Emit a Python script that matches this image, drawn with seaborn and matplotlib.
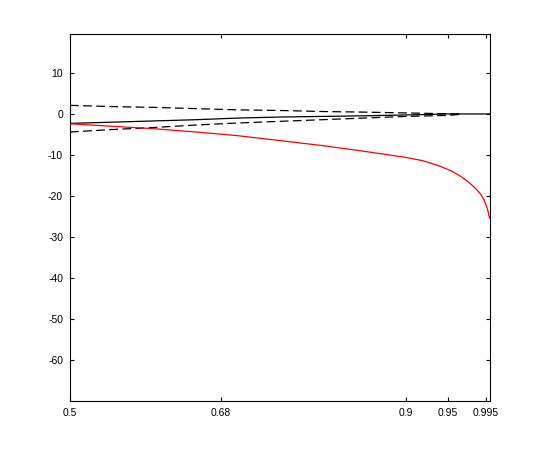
import numpy as np
import pandas as pd
import matplotlib
matplotlib.use("Agg")
import matplotlib.pyplot as plt
import seaborn as sns

# ---- data ----
red_p = [0.5, 0.55, 0.6, 0.65, 0.7, 0.75, 0.8, 0.85, 0.9, 0.92, 0.94, 0.955, 0.965,
         0.975, 0.983, 0.989, 0.993, 0.996, 0.998, 0.9995]
red_v = [-2.4, -3.0, -3.6, -4.4, -5.3, -6.5, -7.7, -9.1, -10.6, -11.4, -12.7, -14.0, -15.2,
         -16.7, -18.2, -19.6, -21.0, -22.6, -24.0, -25.4]

mid_p = [0.5, 0.55, 0.6, 0.65, 0.7, 0.75, 0.8, 0.85, 0.9, 0.95, 1.0]
mid_v = [-2.3, -2.0, -1.7, -1.4, -1.0, -0.75, -0.6, -0.45, -0.25, 0.0, 0.0]

band_p = [0.5, 0.55, 0.6, 0.65, 0.7, 0.75, 0.8, 0.85, 0.9, 0.95, 0.965]
upper_v = [2.1, 1.8, 1.6, 1.3, 1.0, 0.85, 0.6, 0.45, 0.25, 0.05, 0.0]
lower_v = [-4.4, -3.8, -3.3, -2.7, -2.2, -1.8, -1.4, -1.0, -0.6, -0.35, -0.1]

xtick_vals = [0.5, 0.68, 0.9, 0.95, 0.995]
xtick_labels = ["0.5", "0.68", "0.9", "0.95", "0.995"]
ytick_vals = [-60, -50, -40, -30, -20, -10, 0, 10]

sns.set_theme(style="white")
plt.rcParams["font.family"] = ["Liberation Sans", "DejaVu Sans"]

fig = plt.figure(figsize=(5.41, 4.5), dpi=100)
ax = fig.add_axes([70 / 541, 1 - 401 / 450, 420 / 541, 367 / 450])

red_df = pd.DataFrame({"p": red_p, "v": red_v})
mid_df = pd.DataFrame({"p": mid_p, "v": mid_v})
up_df = pd.DataFrame({"p": band_p, "v": upper_v})
lo_df = pd.DataFrame({"p": band_p, "v": lower_v})

dash = (0, (7, 3.5))
sns.lineplot(data=up_df, x="p", y="v", ax=ax, color="black", lw=0.9, linestyle=dash, sort=False)
sns.lineplot(data=lo_df, x="p", y="v", ax=ax, color="black", lw=0.9, linestyle=dash, sort=False)
sns.lineplot(data=mid_df, x="p", y="v", ax=ax, color="black", lw=0.9, sort=False)
sns.lineplot(data=red_df, x="p", y="v", ax=ax, color="red", lw=0.9, sort=False)

ax.set_xlim(0.5, 1.0)
ax.set_ylim(-70, 19.5)
ax.set_xticks(xtick_vals)
ax.set_xticklabels(xtick_labels)
ax.set_yticks(ytick_vals)
ax.set_yticklabels([str(v) for v in ytick_vals])
ax.set_xlabel("")
ax.set_ylabel("")
for s in ax.spines.values():
    s.set_visible(True)
    s.set_color("black")
    s.set_linewidth(0.8)
ax.tick_params(direction="in", top=True, right=True, bottom=True, left=True,
               length=3, width=0.8, color="black", labelsize=7.5, labelcolor="black", pad=5)
ax.grid(False)
ax.set_facecolor("white")
fig.patch.set_facecolor("white")

fig.savefig("out.png", dpi=100, facecolor="white")
